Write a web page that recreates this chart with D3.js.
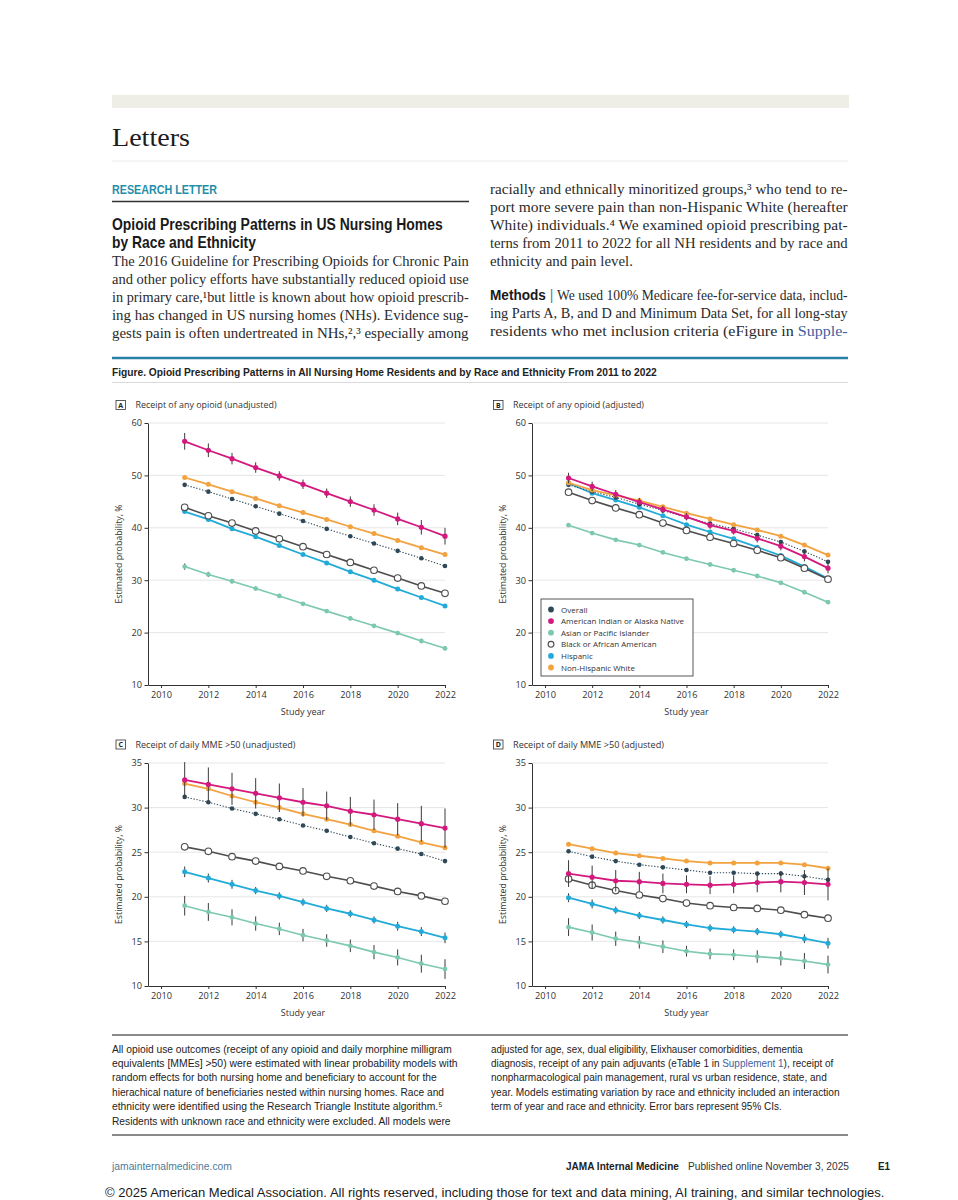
<!DOCTYPE html>
<html>
<head>
<meta charset="utf-8">
<script src="https://cdn.jsdelivr.net/npm/d3@7"></script>
<style>
  body { margin: 0; background: #fff; }
</style>
</head>
<body>
<svg id="page" width="958" height="1200"></svg>
<script>
/* ---- data ---- */
const years  = [2011, 2012, 2013, 2014, 2015, 2016, 2017, 2018, 2019, 2020, 2021, 2022];
const xTicks = [2010, 2012, 2014, 2016, 2018, 2020, 2022];
const yTicksAny = [10, 20, 30, 40, 50, 60];
const yTicksMme = [10, 15, 20, 25, 30, 35];

// A: receipt of any opioid (unadjusted)
const A_overall = [48.2, 46.9, 45.5, 44.1, 42.7, 41.3, 39.8, 38.4, 37.0, 35.6, 34.2, 32.7];
const A_aian    = [56.5, 54.8, 53.2, 51.5, 49.9, 48.3, 46.6, 45.0, 43.4, 41.7, 40.1, 38.4];
const A_asian   = [32.6, 31.1, 29.8, 28.4, 27.0, 25.5, 24.1, 22.7, 21.3, 19.9, 18.4, 17.0];
const A_black   = [43.9, 42.3, 40.9, 39.4, 37.9, 36.4, 34.9, 33.4, 31.9, 30.4, 28.9, 27.5];
const A_hisp    = [43.1, 41.6, 39.8, 38.3, 36.6, 34.9, 33.3, 31.6, 30.0, 28.3, 26.7, 25.1];
const A_white   = [49.6, 48.3, 46.9, 45.6, 44.2, 42.9, 41.6, 40.2, 38.9, 37.6, 36.2, 34.9];
const A_aian_ci  = [1.6, 1.3, 1.1, 1.0, 0.9, 0.9, 0.9, 1.0, 1.1, 1.2, 1.4, 1.6];
const A_asian_ci = [0.6, 0.5, 0.4, 0.4, 0.4, 0.3, 0.3, 0.3, 0.3, 0.3, 0.4, 0.4];

// B: receipt of any opioid (adjusted)
const B_overall = [48.2, 46.9, 45.8, 44.5, 43.3, 42.0, 40.8, 39.8, 38.6, 37.3, 35.5, 33.5];
const B_aian    = [49.5, 47.9, 46.4, 44.9, 43.5, 42.1, 40.5, 39.4, 38.0, 36.5, 34.5, 32.3];
const B_asian   = [40.5, 39.0, 37.7, 36.7, 35.3, 34.1, 33.0, 31.9, 30.8, 29.5, 27.7, 25.8];
const B_black   = [46.8, 45.2, 43.8, 42.5, 40.9, 39.5, 38.2, 37.0, 35.7, 34.3, 32.3, 30.2];
const B_hisp    = [48.5, 46.6, 45.3, 43.9, 42.3, 40.6, 39.2, 37.9, 36.3, 34.7, 32.6, 30.3];
const B_white   = [48.6, 47.2, 46.2, 45.2, 44.0, 42.8, 41.7, 40.6, 39.6, 38.4, 36.7, 34.8];
const B_aian_ci = [1.0, 0.9, 0.8, 0.8, 0.7, 0.7, 0.7, 0.7, 0.8, 0.8, 0.9, 1.0];

// C: receipt of daily MME >50 (unadjusted)
const C_overall = [31.2, 30.6, 29.9, 29.3, 28.7, 28.0, 27.4, 26.7, 26.0, 25.4, 24.8, 24.0];
const C_aian    = [33.1, 32.6, 32.1, 31.6, 31.1, 30.6, 30.2, 29.6, 29.2, 28.7, 28.2, 27.7];
const C_asian   = [19.0, 18.3, 17.7, 17.0, 16.4, 15.7, 15.1, 14.5, 13.8, 13.2, 12.5, 11.9];
const C_black   = [25.6, 25.1, 24.5, 24.0, 23.4, 22.9, 22.3, 21.8, 21.2, 20.6, 20.1, 19.5];
const C_hisp    = [22.8, 22.1, 21.4, 20.7, 20.1, 19.4, 18.7, 18.1, 17.4, 16.7, 16.1, 15.4];
const C_white   = [32.7, 32.1, 31.3, 30.6, 30.0, 29.3, 28.7, 28.1, 27.4, 26.8, 26.1, 25.5];
const C_aian_ci  = [2.0, 1.9, 1.8, 1.7, 1.6, 1.6, 1.6, 1.6, 1.7, 1.8, 2.0, 2.2];
const C_asian_ci = [1.1, 1.0, 0.9, 0.8, 0.7, 0.7, 0.7, 0.7, 0.8, 0.9, 1.0, 1.1];
const C_hisp_ci  = [0.6, 0.5, 0.5, 0.4, 0.4, 0.4, 0.4, 0.4, 0.4, 0.5, 0.5, 0.6];

// D: receipt of daily MME >50 (adjusted)
const D_overall = [25.1, 24.5, 24.0, 23.6, 23.3, 23.0, 22.7, 22.7, 22.6, 22.6, 22.3, 21.9];
const D_aian    = [22.6, 22.2, 21.8, 21.7, 21.5, 21.4, 21.3, 21.4, 21.6, 21.7, 21.6, 21.4];
const D_asian   = [16.6, 16.0, 15.3, 14.9, 14.4, 13.9, 13.6, 13.5, 13.3, 13.1, 12.8, 12.4];
const D_black   = [22.0, 21.3, 20.7, 20.2, 19.8, 19.3, 19.0, 18.8, 18.7, 18.5, 18.0, 17.6];
const D_hisp    = [19.9, 19.2, 18.5, 17.9, 17.4, 16.9, 16.5, 16.3, 16.1, 15.8, 15.3, 14.8];
const D_white   = [25.9, 25.4, 24.9, 24.6, 24.3, 24.0, 23.8, 23.8, 23.8, 23.8, 23.6, 23.2];
const D_aian_ci  = [1.5, 1.3, 1.2, 1.1, 1.1, 1.0, 1.0, 1.0, 1.1, 1.2, 1.4, 1.8];
const D_asian_ci = [1.0, 0.9, 0.8, 0.7, 0.7, 0.6, 0.6, 0.6, 0.7, 0.8, 0.9, 1.0];
const D_hisp_ci  = [0.5, 0.5, 0.4, 0.4, 0.4, 0.4, 0.4, 0.4, 0.4, 0.4, 0.5, 0.6];

const groupNames = ["Overall", "American Indian or Alaska Native", "Asian or Pacific Islander",
                    "Black or African American", "Hispanic", "Non-Hispanic White"];

/* ---- styles ---- */
const serif  = '"Liberation Serif","DejaVu Serif",serif';
const narrow = '"Liberation Sans Narrow","Liberation Sans",sans-serif';
const chartFont = '"Open Sans","DejaVu Sans",sans-serif';

const style = {
    Overall: { color: "#2e4858", r: 2.3, width: 1.1, dash: "1.3,1.7" },
    "American Indian or Alaska Native": { color: "#d4197e", r: 2.6, width: 1.8 },
    "Asian or Pacific Islander": { color: "#7cc9ad", r: 2.4, width: 1.6 },
    "Black or African American": { color: "#4d4d4d", r: 3.3, width: 1.6, open: true },
    Hispanic: { color: "#22abd8", r: 2.5, width: 1.8 },
    "Non-Hispanic White": { color: "#f2a23f", r: 2.5, width: 1.8 }
};
// stacking order of the lines, bottom to top
const drawOrder = [2, 4, 3, 0, 5, 1];

const svg = d3.select("#page");

/* ---- text helper: squeeze/stretch a line horizontally to a set width ---- */
function text(x, y, parts, o = {}) {
    const t = svg.append("text")
        .attr("x", 0).attr("y", 0)
        .attr("font-family", o.family || serif)
        .attr("font-size", o.size || 14)
        .attr("font-weight", o.weight || "normal")
        .attr("fill", o.fill || "#222");
    (typeof parts === "string" ? [[parts]] : parts).forEach(p => {
        const s = t.append("tspan").text(p[0]);
        if (p[1]) Object.entries(p[1]).forEach(([k, v]) => s.attr(k, v));
    });
    let k = 1;
    if (o.width) k = o.width / t.node().getComputedTextLength();
    t.attr("transform", `translate(${x},${y}) scale(${k},1)`);
    return t;
}

function rule(x1, x2, y, color, w) {
    svg.append("line").attr("x1", x1).attr("x2", x2).attr("y1", y).attr("y2", y)
        .attr("stroke", color).attr("stroke-width", w);
}

/* ---- page header ---- */
svg.append("rect").attr("x", 112).attr("y", 95).attr("width", 737).attr("height", 13).attr("fill", "#eeede6");
text(112, 146, "Letters", { size: 26, fill: "#1c1c1c", width: 78 });
rule(112, 848, 161, "#ececec", 1);

text(112, 194, "RESEARCH LETTER", { family: narrow, size: 12, weight: "bold", fill: "#1f8ea8", width: 105 });
rule(112, 469, 201.5, "#333", 1.3);

text(112, 230, "Opioid Prescribing Patterns in US Nursing Homes", { family: narrow, size: 16, weight: "bold", fill: "#1a1a1a", width: 331 });
text(112, 248, "by Race and Ethnicity", { family: narrow, size: 16, weight: "bold", fill: "#1a1a1a", width: 144 });

const leftLines = [
    "The 2016 Guideline for Prescribing Opioids for Chronic Pain",
    "and other policy efforts have substantially reduced opioid use",
    "in primary care,\u00b9but little is known about how opioid prescrib-",
    "ing has changed in US nursing homes (NHs). Evidence sug-",
    "gests pain is often undertreated in NHs,\u00b2,\u00b3 especially among"
];
leftLines.forEach((s, i) => text(112, 266 + i * 18, s, { size: 14, width: 357, fill: "#2a2a2a" }));

const rightLines = [
    "racially and ethnically minoritized groups,\u00b3 who tend to re-",
    "port more severe pain than non-Hispanic White (hereafter",
    "White) individuals.\u2074 We examined opioid prescribing pat-",
    "terns from 2011 to 2022 for all NH residents and by race and"
];
rightLines.forEach((s, i) => text(490, 194 + i * 18, s, { size: 14, width: 358, fill: "#2a2a2a" }));
text(490, 266, "ethnicity and pain level.", { size: 14, width: 143, fill: "#2a2a2a" });

text(490, 300, [["Methods", { "font-family": narrow, "font-weight": "bold", fill: "#1a1a1a" }],
                [" | ", { fill: "#1f8ea8", "font-family": narrow }],
                ["We used 100% Medicare fee-for-service data, includ-"]], { size: 14, width: 358, fill: "#2a2a2a" });
text(490, 318, "ing Parts A, B, and D and Minimum Data Set, for all long-stay", { size: 14, width: 358, fill: "#2a2a2a" });
text(490, 336, [["residents who met inclusion criteria (eFigure in "], ["Supple-", { fill: "#3d5fa3" }]], { size: 14, width: 358, fill: "#2a2a2a" });

rule(112, 848, 358, "#2b7fa6", 2.5);
text(112, 375.5, "Figure. Opioid Prescribing Patterns in All Nursing Home Residents and by Race and Ethnicity From 2011 to 2022",
     { family: narrow, size: 11, weight: "bold", fill: "#222", width: 545 });
rule(112, 848, 382.5, "#d0d0d0", 0.8);

/* ---- chart panels ---- */
function panel(cfg) {
    const x = d3.scaleLinear().domain([2009.45, 2022]).range([cfg.x0, cfg.x1]);
    const y = d3.scaleLinear().domain([cfg.ticks[0], cfg.ticks[cfg.ticks.length - 1]]).range([cfg.yBot, cfg.yTop]);
    const g = svg.append("g");

    // label box + title
    g.append("rect").attr("x", cfg.boxX).attr("y", cfg.boxY).attr("width", 9.5).attr("height", 9)
        .attr("fill", "#fff").attr("stroke", "#333").attr("stroke-width", 0.8);
    g.append("text").attr("x", cfg.boxX + 4.75).attr("y", cfg.boxY + 7.2).attr("text-anchor", "middle")
        .attr("font-family", chartFont).attr("font-size", 7).attr("font-weight", "bold").attr("fill", "#222")
        .text(cfg.letter);
    g.append("text").attr("x", cfg.boxX + 19.5).attr("y", cfg.boxY + 7.5)
        .attr("font-family", chartFont).attr("font-size", 9).attr("fill", "#333")
        .attr("textLength", cfg.titleW).attr("lengthAdjust", "spacingAndGlyphs")
        .text(cfg.title);

    // grid
    g.selectAll(".grid").data(cfg.ticks.slice(1)).join("line")
        .attr("x1", cfg.x0).attr("x2", cfg.x1)
        .attr("y1", d => y(d)).attr("y2", d => y(d))
        .attr("stroke", "#e3e3e3").attr("stroke-width", 0.9);

    // axes
    const ya = g.append("g").attr("transform", `translate(${cfg.x0},0)`)
        .call(d3.axisLeft(y).tickValues(cfg.ticks).tickSize(3.5).tickSizeOuter(0).tickPadding(2.5));
    const xa = g.append("g").attr("transform", `translate(0,${cfg.yBot})`)
        .call(d3.axisBottom(x).tickValues(xTicks).tickFormat(d3.format("d")).tickSize(3).tickSizeOuter(0).tickPadding(3));
    [ya, xa].forEach(a => {
        a.attr("font-family", chartFont).attr("font-size", 9.2);
        a.selectAll("path, line").attr("stroke", "#333").attr("stroke-width", 1);
        a.selectAll("text").attr("fill", "#333");
    });

    g.append("text").attr("x", (cfg.x0 + 13 + cfg.x1) / 2).attr("y", cfg.yBot + 30)
        .attr("text-anchor", "middle").attr("font-family", chartFont).attr("font-size", 9).attr("fill", "#333")
        .text("Study year");
    g.append("text").attr("transform", `translate(${cfg.x0 - 26},${(cfg.yTop + cfg.yBot) / 2}) rotate(-90)`)
        .attr("text-anchor", "middle").attr("font-family", chartFont).attr("font-size", 8.8).attr("fill", "#333")
        .text("Estimated probability, %");

    const line = d3.line().x((d, i) => x(years[i])).y(d => y(d));

    drawOrder.forEach(k => {
        const name = groupNames[k], s = style[name], vals = cfg.values[k], ci = cfg.ci[k];
        g.append("path").attr("d", line(vals)).attr("fill", "none")
            .attr("stroke", s.color).attr("stroke-width", s.width)
            .attr("stroke-dasharray", s.dash || null);
        if (ci) {
            g.selectAll(null).data(vals).join("line")
                .attr("x1", (d, i) => x(years[i])).attr("x2", (d, i) => x(years[i]))
                .attr("y1", (d, i) => y(d - ci[i])).attr("y2", (d, i) => y(d + ci[i]))
                .attr("stroke", "#3a3a3a").attr("stroke-width", 1);
        }
        g.selectAll(null).data(vals).join("circle")
            .attr("cx", (d, i) => x(years[i])).attr("cy", d => y(d)).attr("r", s.r)
            .attr("fill", s.open ? "#fff" : s.color)
            .attr("stroke", s.open ? s.color : "none").attr("stroke-width", 1.1);
    });

    if (cfg.legend) {
        const L = cfg.legend;
        g.append("rect").attr("x", L.x).attr("y", L.y).attr("width", L.w).attr("height", L.h)
            .attr("fill", "#fff").attr("stroke", "#444").attr("stroke-width", 0.9);
        const item = g.selectAll(".leg").data(groupNames).join("g")
            .attr("transform", (d, i) => `translate(${L.x + 10},${L.y + 10.5 + i * 11.6})`);
        item.append("circle").attr("r", 2.9)
            .attr("fill", d => style[d].open ? "#fff" : style[d].color)
            .attr("stroke", d => style[d].open ? style[d].color : "none").attr("stroke-width", 1.1);
        item.append("text").attr("x", 10).attr("y", 3).attr("font-family", chartFont)
            .attr("font-size", 8).attr("fill", "#333").text(d => d);
    }
}

panel({ letter: "A", title: "Receipt of any opioid (unadjusted)", titleW: 141, boxX: 116, boxY: 400.5,
        x0: 148, x1: 445, yTop: 423, yBot: 685, ticks: yTicksAny,
        values: [A_overall, A_aian, A_asian, A_black, A_hisp, A_white],
        ci: [null, A_aian_ci, A_asian_ci, null, null, null] });

panel({ letter: "B", title: "Receipt of any opioid (adjusted)", titleW: 131, boxX: 493.5, boxY: 400.5,
        x0: 532, x1: 828, yTop: 423, yBot: 685, ticks: yTicksAny,
        values: [B_overall, B_aian, B_asian, B_black, B_hisp, B_white],
        ci: [null, B_aian_ci, null, null, null, null],
        legend: { x: 541, y: 599, w: 152, h: 77 } });

panel({ letter: "C", title: "Receipt of daily MME >50 (unadjusted)", titleW: 160, boxX: 116, boxY: 740,
        x0: 148, x1: 445, yTop: 763, yBot: 986, ticks: yTicksMme,
        values: [C_overall, C_aian, C_asian, C_black, C_hisp, C_white],
        ci: [null, C_aian_ci, C_asian_ci, null, C_hisp_ci, null] });

panel({ letter: "D", title: "Receipt of daily MME >50 (adjusted)", titleW: 151, boxX: 493.5, boxY: 740,
        x0: 532, x1: 828, yTop: 763, yBot: 986, ticks: yTicksMme,
        values: [D_overall, D_aian, D_asian, D_black, D_hisp, D_white],
        ci: [null, D_aian_ci, D_asian_ci, null, D_hisp_ci, null] });

/* ---- figure notes ---- */
rule(112, 848, 1035, "#8a8a8a", 1.8);
const noteLeft = [
    ["All opioid use outcomes (receipt of any opioid and daily morphine milligram", 340],
    ["equivalents [MMEs] >50) were estimated with linear probability models with", 346],
    ["random effects for both nursing home and beneficiary to account for the", 325],
    ["hierachical nature of beneficiaries nested within nursing homes. Race and", 332],
    ["ethnicity were identified using the Research Triangle Institute algorithm.\u2075", 331],
    ["Residents with unknown race and ethnicity were excluded. All models were", 339]
];
noteLeft.forEach((d, i) => text(112, 1052.5 + i * 14.4, d[0], { family: narrow, size: 10.5, width: d[1], fill: "#222" }));
const noteRight = [
    [[["adjusted for age, sex, dual eligibility, Elixhauser comorbidities, dementia"]], 312],
    [[["diagnosis, receipt of any pain adjuvants (eTable 1 in "], ["Supplement 1", { fill: "#3d5fa3" }], ["), receipt of"]], 343],
    [[["nonpharmacological pain management, rural vs urban residence, state, and"]], 336],
    [[["year. Models estimating variation by race and ethnicity included an interaction"]], 349],
    [[["term of year and race and ethnicity. Error bars represent 95% CIs."]], 291]
];
noteRight.forEach((d, i) => text(491, 1052.5 + i * 14.4, d[0], { family: narrow, size: 10.5, width: d[1], fill: "#222" }));
rule(112, 848, 1135, "#8a8a8a", 1.8);

/* ---- footer ---- */
text(112, 1170, "jamainternalmedicine.com", { family: narrow, size: 10.5, fill: "#4d7b9c", width: 120 });
text(566, 1170, "JAMA Internal Medicine", { family: narrow, size: 10.5, weight: "bold", fill: "#222", width: 113 });
text(688, 1170, "Published online November 3, 2025", { family: narrow, size: 10.5, fill: "#333", width: 161 });
text(878, 1170, "E1", { family: narrow, size: 10.5, weight: "bold", fill: "#222", width: 12 });
text(105, 1197, "\u00a9 2025 American Medical Association. All rights reserved, including those for text and data mining, AI training, and similar technologies.",
     { family: '"Liberation Sans",Arial,sans-serif', size: 13, fill: "#1a1a1a", width: 780 });
</script>
</body>
</html>
